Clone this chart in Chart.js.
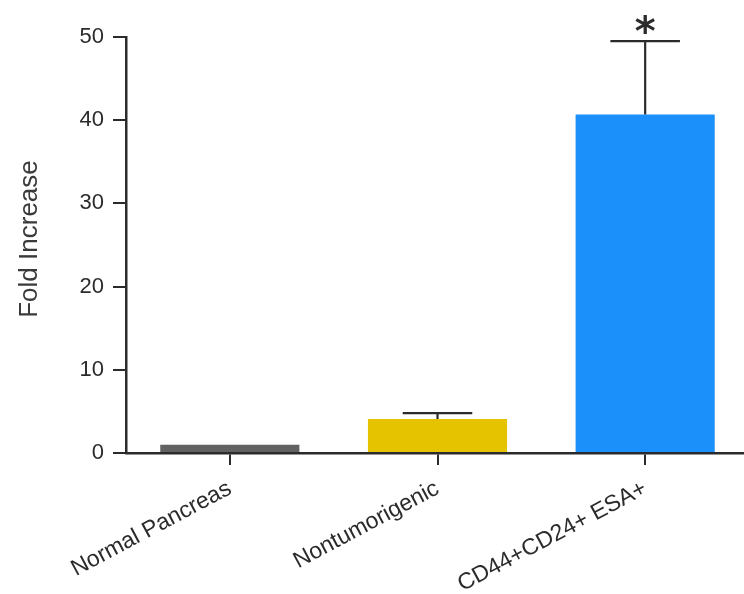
<!DOCTYPE html>
<html>
<head>
<meta charset="utf-8">
<script src="https://cdn.jsdelivr.net/npm/chart.js@4.4.0/dist/chart.umd.min.js"></script>
<style>
  html, body { margin: 0; padding: 0; background: #fff; overflow: hidden; }
  #wrap { width: 750px; height: 594px; }
</style>
</head>
<body>
<div id="wrap"><canvas id="foldChart"></canvas></div>
<script>
// === DATA ===
const categories = ['Normal Pancreas', 'Nontumorigenic', 'CD44+CD24+ ESA+'];
const foldValues = [1.0, 4.1, 40.7];
const foldErrors = [0, 0.7, 8.8];
const significance = ['', '', '*'];
const barColors = ['#626262', '#e6c300', '#1c90fa'];
const yTicks = [0, 10, 20, 30, 40, 50];
const yTitle = 'Fold Increase';

const INK = '#2b2b2b';
const FONT = '"Liberation Sans", Arial, sans-serif';

// error bars, significance stars, y title
const errorBarPlugin = {
  id: 'errorBars',
  afterDatasetsDraw(chart) {
    const ctx = chart.ctx;
    const yScale = chart.scales.y;
    const meta = chart.getDatasetMeta(0);
    ctx.save();
    ctx.strokeStyle = INK;
    ctx.lineWidth = 2.2;
    meta.data.forEach((bar, i) => {
      const err = foldErrors[i];
      const topY = yScale.getPixelForValue(foldValues[i] + err);
      if (err > 0) {
        const half = bar.width * 0.25;
        ctx.beginPath();
        ctx.moveTo(bar.x, bar.y);
        ctx.lineTo(bar.x, topY);
        ctx.moveTo(bar.x - half, topY);
        ctx.lineTo(bar.x + half, topY);
        ctx.stroke();
      }
      if (significance[i]) {
        ctx.fillStyle = INK;
        ctx.font = 'bold 40px "DejaVu Sans", sans-serif';
        ctx.textAlign = 'center';
        ctx.textBaseline = 'alphabetic';
        const m = ctx.measureText(significance[i]);
        const cy = topY - 17;
        ctx.fillText(significance[i], bar.x, cy + (m.actualBoundingBoxAscent - m.actualBoundingBoxDescent) / 2);
      }
    });

    // axis title
    const area = chart.chartArea;
    ctx.translate(30, (area.top + area.bottom) / 2 - 6);
    ctx.rotate(-Math.PI / 2);
    ctx.fillStyle = '#3a3a3a';
    ctx.font = '26px ' + FONT;
    ctx.textAlign = 'center';
    ctx.textBaseline = 'middle';
    ctx.fillText(yTitle, 0, 0);
    ctx.restore();
  }
};

const ctx = document.getElementById('foldChart').getContext('2d');
new Chart(ctx, {
  type: 'bar',
  data: {
    labels: categories,
    datasets: [{
      data: foldValues,
      backgroundColor: barColors,
      borderWidth: 0,
      barPercentage: 0.67,
      categoryPercentage: 1.0
    }]
  },
  options: {
    responsive: true,
    maintainAspectRatio: false,
    animation: false,
    layout: { padding: { top: 37, right: 1, left: 0, bottom: 0 } },
    plugins: { legend: { display: false }, tooltip: { enabled: false } },
    scales: {
      x: {
        border: { color: INK, width: 2.5 },
        grid: { offset: false, drawOnChartArea: false, tickLength: 12, color: INK, lineWidth: 2 },
        ticks: {
          color: INK, font: { family: FONT, size: 23 },
          maxRotation: 28, minRotation: 28, autoSkip: false, padding: 10
        },
        afterFit(scale) { scale.height = 141; }
      },
      y: {
        min: 0, max: 50,
        border: { color: INK, width: 2.5 },
        grid: { drawOnChartArea: false, tickLength: 13, color: INK, lineWidth: 2 },
        afterBuildTicks(scale) { scale.ticks = yTicks.map(v => ({ value: v })); },
        ticks: { color: INK, font: { family: FONT, size: 22 }, padding: 9 },
        title: { display: false },
        afterFit(scale) { scale.width = 126; }
      }
    }
  },
  plugins: [errorBarPlugin]
});
</script>
</body>
</html>
